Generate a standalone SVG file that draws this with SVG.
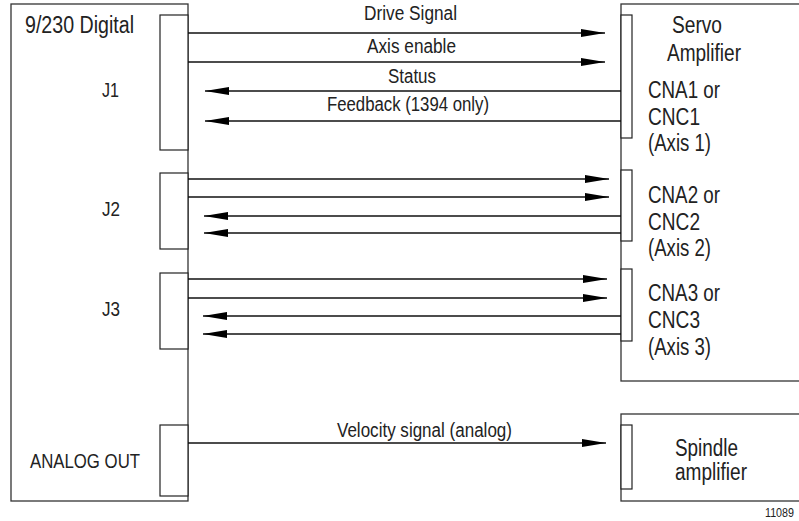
<svg xmlns="http://www.w3.org/2000/svg" width="799" height="521" viewBox="0 0 799 521">
<style>
.box{fill:#fff;stroke:#333;stroke-width:1.3}
.port{fill:#fff;stroke:#222;stroke-width:1.2}
.ln{stroke:#111;stroke-width:1.3;fill:none}
.r{marker-end:url(#ah)}
text{font-family:"Liberation Sans",Arial,sans-serif;fill:#222}
.s{font-size:20px}
.b{font-size:23px}
.t{font-size:12px}
</style>
<defs>
<marker id="ah" viewBox="0 0 24 8" refX="24" refY="4" markerWidth="24" markerHeight="8" markerUnits="userSpaceOnUse" orient="auto">
<path d="M0,0 L24,4 L0,8 z" fill="#000"/>
</marker>
</defs>
<rect width="799" height="521" fill="#fff"/>
<g id="controller">
<rect class="box" x="11" y="4" width="177" height="497"/>
<rect class="port" x="160" y="15" width="28" height="135"/>
<rect class="port" x="160" y="173" width="28" height="76"/>
<rect class="port" x="160" y="273" width="28" height="76"/>
<rect class="port" x="160" y="425" width="28" height="71"/>
<text class="b" x="25" y="33" textLength="109" lengthAdjust="spacingAndGlyphs">9/230 Digital</text>
<text class="s" x="102" y="97" textLength="17" lengthAdjust="spacingAndGlyphs">J1</text>
<text class="s" x="102" y="216" textLength="18" lengthAdjust="spacingAndGlyphs">J2</text>
<text class="s" x="102" y="316" textLength="18" lengthAdjust="spacingAndGlyphs">J3</text>
<text class="s" x="30" y="468" textLength="110" lengthAdjust="spacingAndGlyphs">ANALOG OUT</text>
</g>
<g id="servo-amplifier">
<rect class="box" x="621" y="4" width="200" height="377"/>
<rect class="port" x="621" y="15" width="11" height="123"/>
<rect class="port" x="621" y="170" width="11" height="71"/>
<rect class="port" x="621" y="269" width="11" height="72"/>
<text class="b" x="672" y="33" textLength="50" lengthAdjust="spacingAndGlyphs">Servo</text>
<text class="b" x="667" y="61" textLength="74" lengthAdjust="spacingAndGlyphs">Amplifier</text>
<text class="b" x="648" y="98" textLength="72" lengthAdjust="spacingAndGlyphs">CNA1 or</text>
<text class="b" x="648" y="125" textLength="52" lengthAdjust="spacingAndGlyphs">CNC1</text>
<text class="b" x="648" y="151" textLength="63" lengthAdjust="spacingAndGlyphs">(Axis 1)</text>
<text class="b" x="648" y="203" textLength="72" lengthAdjust="spacingAndGlyphs">CNA2 or</text>
<text class="b" x="648" y="230" textLength="52" lengthAdjust="spacingAndGlyphs">CNC2</text>
<text class="b" x="648" y="256" textLength="63" lengthAdjust="spacingAndGlyphs">(Axis 2)</text>
<text class="b" x="648" y="301" textLength="72" lengthAdjust="spacingAndGlyphs">CNA3 or</text>
<text class="b" x="648" y="328" textLength="52" lengthAdjust="spacingAndGlyphs">CNC3</text>
<text class="b" x="648" y="355" textLength="63" lengthAdjust="spacingAndGlyphs">(Axis 3)</text>
</g>
<g id="spindle-amplifier">
<rect class="box" x="621" y="414" width="200" height="87"/>
<rect class="port" x="621" y="425" width="11" height="64"/>
<text class="b" x="675" y="456" textLength="63" lengthAdjust="spacingAndGlyphs">Spindle</text>
<text class="b" x="675" y="480" textLength="72" lengthAdjust="spacingAndGlyphs">amplifier</text>
</g>
<g id="connectors">
<line class="ln r" x1="188" y1="33" x2="605" y2="33"/>
<line class="ln r" x1="188" y1="62" x2="605" y2="62"/>
<line class="ln r" x1="621" y1="91" x2="205" y2="91"/>
<line class="ln r" x1="621" y1="121" x2="205" y2="121"/>
<line class="ln r" x1="188" y1="179" x2="609" y2="179"/>
<line class="ln r" x1="188" y1="197" x2="609" y2="197"/>
<line class="ln r" x1="621" y1="216" x2="204" y2="216"/>
<line class="ln r" x1="621" y1="233" x2="204" y2="233"/>
<line class="ln r" x1="188" y1="279" x2="607" y2="279"/>
<line class="ln r" x1="188" y1="298" x2="607" y2="298"/>
<line class="ln r" x1="621" y1="316" x2="203" y2="316"/>
<line class="ln r" x1="621" y1="334" x2="203" y2="334"/>
<line class="ln r" x1="188" y1="443" x2="606" y2="443"/>
<text class="s" x="364" y="20" textLength="93" lengthAdjust="spacingAndGlyphs">Drive Signal</text>
<text class="s" x="367" y="53" textLength="89" lengthAdjust="spacingAndGlyphs">Axis enable</text>
<text class="s" x="388" y="83" textLength="48" lengthAdjust="spacingAndGlyphs">Status</text>
<text class="s" x="327" y="111" textLength="162" lengthAdjust="spacingAndGlyphs">Feedback (1394 only)</text>
<text class="s" x="337" y="437" textLength="175" lengthAdjust="spacingAndGlyphs">Velocity signal (analog)</text>
</g>
<text class="t" x="765" y="517" textLength="29" lengthAdjust="spacingAndGlyphs">11089</text>
</svg>
